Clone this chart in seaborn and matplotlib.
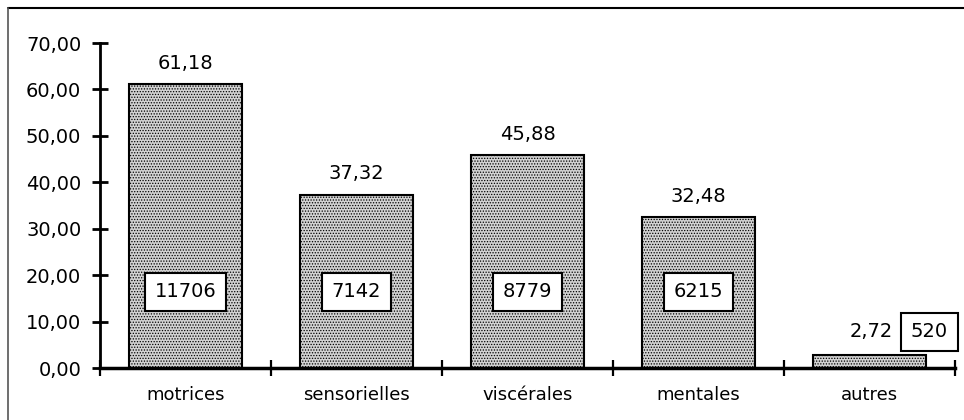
import pandas as pd
import matplotlib.pyplot as plt
import matplotlib.lines as mlines
from matplotlib.ticker import FixedLocator, FuncFormatter
import seaborn as sns

# Données
categories = ['motrices', 'sensorielles', 'viscérales', 'mentales', 'autres']
pourcentages = [61.18, 37.32, 45.88, 32.48, 2.72]
effectifs = [11706, 7142, 8779, 6215, 520]

df = pd.DataFrame({'categorie': categories, 'pct': pourcentages, 'n': effectifs})

sns.set_style('white')
plt.rcParams['font.family'] = ['DejaVu Sans']
plt.rcParams['text.color'] = 'black'
plt.rcParams['xtick.color'] = 'black'
plt.rcParams['ytick.color'] = 'black'
plt.rcParams['axes.edgecolor'] = 'black'
plt.rcParams['hatch.color'] = '#7a7a7a'
plt.rcParams['hatch.linewidth'] = 0.6

fig = plt.figure(figsize=(9.64, 4.2), dpi=100)
ax = fig.add_axes([100 / 964, 52 / 420, 855 / 964, 325 / 420])

sns.barplot(data=df, x='categorie', y='pct', color='#d2d2d2', width=0.66,
            edgecolor='black', linewidth=1.5, saturation=1, ax=ax)
for p in ax.patches:
    p.set_hatch('......')

ax.set_xlim(-0.5, 4.5)
ax.set_ylim(0, 70)
ax.set_xlabel('')
ax.set_ylabel('')

# Axes et graduations
for s in ['top', 'right']:
    ax.spines[s].set_visible(False)
ax.spines['left'].set_linewidth(2)
ax.spines['bottom'].set_linewidth(2.5)

ax.yaxis.set_major_locator(FixedLocator(range(0, 71, 10)))
ax.yaxis.set_major_formatter(FuncFormatter(lambda v, pos: f'{v:.2f}'.replace('.', ',')))
ax.tick_params(axis='y', left=True, direction='inout', length=11, width=2,
               labelsize=14, pad=8, labelcolor='black')

ax.xaxis.set_minor_locator(FixedLocator([i - 0.5 for i in range(len(categories) + 1)]))
ax.tick_params(axis='x', which='minor', bottom=True, direction='inout', length=11, width=1.6)
ax.tick_params(axis='x', which='major', bottom=True, length=0, labelsize=13, pad=13,
               labelcolor='black')

# Étiquettes
for i, (pct, n) in enumerate(zip(pourcentages, effectifs)):
    txt_pct = f'{pct:.2f}'.replace('.', ',')
    box = dict(boxstyle='square,pad=0.5', facecolor='white', edgecolor='black', linewidth=1.5)
    if pct > 10:
        ax.annotate(txt_pct, (i, pct), xytext=(0, 11), textcoords='offset points',
                    ha='center', va='baseline', fontsize=14)
        ax.text(i, 16.4, f'{n}', ha='center', va='center', fontsize=14, bbox=box)
    else:
        ax.text(i + 0.01, 7.8, txt_pct, ha='center', va='center', fontsize=14)
        ax.text(i + 0.35, 7.8, f'{n}', ha='center', va='center', fontsize=14, bbox=box)

# Cadre
fig.add_artist(mlines.Line2D([8 / 964, 1], [1 - 8 / 420, 1 - 8 / 420], color='black', linewidth=1.5))
fig.add_artist(mlines.Line2D([8 / 964, 8 / 964], [0, 1 - 8 / 420], color='#555555', linewidth=1.2))

fig.savefig('out.png', dpi=100)
plt.close(fig)
